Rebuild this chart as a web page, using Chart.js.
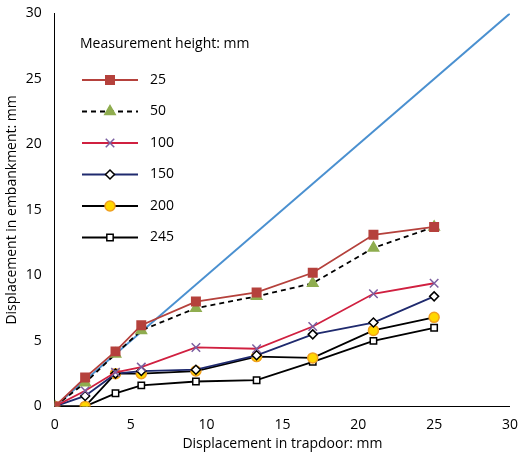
<!DOCTYPE html>
<html lang="en">
<head>
<meta charset="UTF-8">
<script src="https://cdn.jsdelivr.net/npm/chart.js"></script>
<style>
  body { margin: 0; background: #fff; }
  #wrap { width: 520px; height: 452px; }
</style>
</head>
<body>
<div id="wrap"><canvas id="c"></canvas></div>
<script>
const trapdoor = [0, 2, 4, 5.7, 9.3, 13.3, 17, 21, 25];
const h25  = [0, 2.2, 4.2, 6.2, 8.0, 8.7, 10.2, 13.1, 13.7];
const h50  = [0, 1.8, 4.0, 5.8, 7.5, 8.4, 9.4, 12.1, 13.7];
const h100 = [0, 1.2, 2.6, 3.0, 4.5, 4.4, 6.1, 8.6, 9.4];
const h150 = [0, 0.8, 2.5, 2.7, 2.8, 3.9, 5.5, 6.4, 8.4];
const h200 = [0, 0.0, 2.5, 2.5, 2.7, 3.8, 3.7, 5.8, 6.8];
const h245 = [0, 0.0, 1.0, 1.6, 1.9, 2.0, 3.4, 5.0, 6.0];
const refX = [0, 30];
const refY = [0, 30];

const pts = (xs, ys) => xs.map((x, i) => ({ x, y: ys[i] }));

const series = [
  { label: '25',  data: h25,  line: '#b5413c', style: 'rect', fill: '#b5413c', stroke: '#b5413c', r: 6, dash: [] },
  { label: '50',  data: h50,  line: '#000', style: 'triangle', fill: '#8fad4f', stroke: '#8fad4f', r: 6, dash: [5, 4] },
  { label: '100', data: h100, line: '#d02040', style: 'crossRot', fill: '#7b5ea0', stroke: '#7b5ea0', r: 6, dash: [] },
  { label: '150', data: h150, line: '#1f2a6e', style: 'rectRot', fill: '#fff', stroke: '#000', r: 4.5, dash: [] },
  { label: '200', data: h200, line: '#000', style: 'circle', fill: '#ffd700', stroke: '#f0a020', r: 5, dash: [] },
  { label: '245', data: h245, line: '#000', style: 'rect', fill: '#fff', stroke: '#000', r: 4.5, dash: [] }
];

const datasets = series.map(s => ({
  label: s.label,
  data: pts(trapdoor, s.data),
  showLine: true,
  borderColor: s.line,
  borderWidth: 1.8,
  borderDash: s.dash,
  pointStyle: s.style,
  pointRadius: s.r,
  pointBackgroundColor: s.fill,
  pointBorderColor: s.stroke,
  pointBorderWidth: 1.5
}));
datasets.push({
  label: 'ref',
  data: pts(refX, refY),
  showLine: true,
  borderColor: '#4a90d0',
  borderWidth: 2,
  pointRadius: 0,
  order: 10
});

const legendPlugin = {
  id: 'customLegend',
  afterDraw(chart) {
    const ctx = chart.ctx;
    ctx.save();
    ctx.fillStyle = '#000';
    ctx.font = '14px "Open Sans", sans-serif';
    ctx.textBaseline = 'middle';
    ctx.fillText('Measurement height: mm', 80, 44);
    series.forEach((s, i) => {
      const y = 80 + i * 31.5;
      ctx.strokeStyle = s.line;
      ctx.lineWidth = 1.8;
      ctx.setLineDash(s.dash);
      ctx.beginPath(); ctx.moveTo(82, y); ctx.lineTo(138, y); ctx.stroke();
      ctx.setLineDash([]);
      ctx.fillStyle = s.fill;
      ctx.strokeStyle = s.stroke;
      ctx.lineWidth = 1.5;
      Chart.helpers.drawPoint(ctx, { pointStyle: s.style, radius: s.r, borderWidth: 1.5 }, 110, y);
      ctx.fillStyle = '#000';
      ctx.fillText(s.label, 150, y);
    });
    ctx.restore();
  }
};

new Chart(document.getElementById('c'), {
  type: 'scatter',
  data: { datasets },
  options: {
    responsive: true,
    maintainAspectRatio: false,
    animation: false,
    layout: { padding: { top: 2, right: 8, left: 4 } },
    plugins: { legend: { display: false }, tooltip: { enabled: false } },
    scales: {
      x: {
        min: 0, max: 30,
        ticks: { stepSize: 5, color: '#000', padding: 2, font: { family: 'Open Sans', size: 14 } },
        grid: { display: false },
        border: { color: '#000' },
        title: { display: true, text: 'Displacement in trapdoor: mm', color: '#000', padding: 0, font: { family: 'Open Sans', size: 14 } }
      },
      y: {
        min: 0, max: 30,
        ticks: { stepSize: 5, color: '#000', padding: 5, font: { family: 'Open Sans', size: 14 } },
        grid: { display: false },
        border: { color: '#000' },
        title: { display: true, text: 'Displacement in embankment: mm', color: '#000', padding: 0, font: { family: 'Open Sans', size: 14 } }
      }
    }
  },
  plugins: [legendPlugin]
});
</script>
</body>
</html>
